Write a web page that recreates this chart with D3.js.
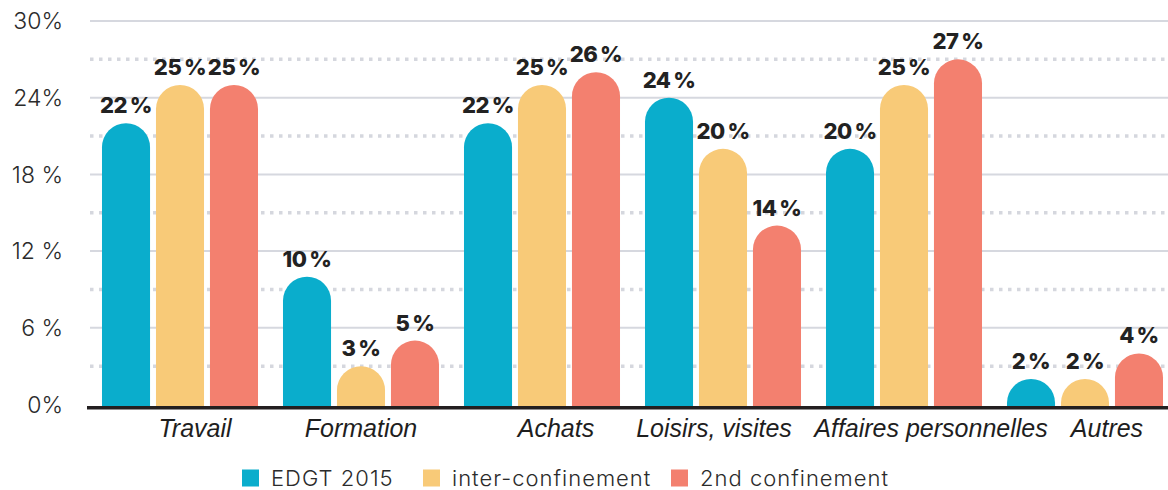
<!DOCTYPE html>
<html>
<head>
<meta charset="utf-8">
<script src="https://cdn.jsdelivr.net/npm/d3@7"></script>
<style>
  body { margin: 0; background: #fff; }
  svg { display: block; }
</style>
</head>
<body>
<svg id="chart" width="1168" height="490"></svg>
<script>
// chart data
const categories = ["Travail", "Formation", "Achats", "Loisirs, visites", "Affaires personnelles", "Autres"];
const seriesNames = ["EDGT 2015", "inter-confinement", "2nd confinement"];
const edgt2015 = [22, 10, 22, 24, 20, 2];
const interConf = [25, 3, 25, 20, 25, 2];
const secondConf = [25, 5, 26, 14, 27, 4];
const yTicks = [0, 6, 12, 18, 24, 30];
const yTickLabels = ["0%", "6 %", "12 %", "18 %", "24%", "30%"];
const yMinorTicks = [3, 9, 15, 21, 27];

const colors = ["#0aadcc", "#f8ca78", "#f3806f"];
const series = [edgt2015, interConf, secondConf];

const svg = d3.select("#chart");

const y = d3.scaleLinear().domain([0, 30]).range([404.5, 21]);

const x0 = d3.scaleBand()
  .domain(categories)
  .range([89.5, 1175.5])
  .paddingInner(0.138)
  .paddingOuter(0.069);

const x1 = d3.scaleBand()
  .domain(seriesNames)
  .range([0, x0.bandwidth()])
  .paddingInner(0.11);

// gridlines
svg.append("g")
  .selectAll("line")
  .data(yTicks.filter(d => d > 0))
  .enter()
  .append("line")
  .attr("x1", 90).attr("x2", 1168)
  .attr("y1", d => y(d)).attr("y2", d => y(d))
  .attr("stroke", "#d6d8df")
  .attr("stroke-width", 2);

svg.append("g")
  .selectAll("line")
  .data(yMinorTicks)
  .enter()
  .append("line")
  .attr("x1", 90).attr("x2", 1168)
  .attr("y1", d => y(d)).attr("y2", d => y(d))
  .attr("stroke", "#d5d7de")
  .attr("stroke-width", 3.5)
  .attr("stroke-dasharray", "3.5,5.5");

// y labels
svg.append("g")
  .selectAll("text")
  .data(yTicks)
  .enter()
  .append("text")
  .attr("x", 63)
  .attr("y", d => y(d))
  .attr("dy", "0.36em")
  .attr("text-anchor", "end")
  .style("font-family", "Inter, 'Open Sans', sans-serif")
  .style("font-weight", 300)
  .style("font-size", "23px")
  .style("fill", "#2b2b2b")
  .text((d, i) => yTickLabels[i]);

// bars with round tops
function barPath(xl, w, top, bottom) {
  const r = w / 2;
  return "M" + xl + "," + bottom +
    "V" + (top + r) +
    "A" + r + "," + r + " 0 0 1 " + (xl + w) + "," + (top + r) +
    "V" + bottom + "Z";
}

const groups = svg.append("g")
  .selectAll("g")
  .data(categories)
  .enter()
  .append("g")
  .attr("transform", d => "translate(" + x0(d) + ",0)");

groups.each(function(cat, ci) {
  const g = d3.select(this);
  seriesNames.forEach(function(s, si) {
    const v = series[si][ci];
    g.append("path")
      .attr("d", barPath(x1(s), x1.bandwidth(), y(v), y(0) + 2))
      .attr("fill", colors[si]);
    g.append("text")
      .attr("x", x1(s) + x1.bandwidth() / 2)
      .attr("y", y(v) - 10)
      .attr("text-anchor", "middle")
      .style("font-family", "Inter, 'Open Sans', sans-serif")
      .style("font-weight", 800)
      .style("font-size", "22px")
      .style("letter-spacing", "-0.5px")
      .style("fill", "#222")
      .text(v + "\u2009%");
  });
});

// baseline
svg.append("line")
  .attr("x1", 87).attr("x2", 1168)
  .attr("y1", y(0) + 3.2).attr("y2", y(0) + 3.2)
  .attr("stroke", "#231f20")
  .attr("stroke-width", 3.6);

// category labels (slight nudges like the original layout)
const labelNudge = [15, 0, 14, -9, 27, 22];
svg.append("g")
  .selectAll("text")
  .data(categories)
  .enter()
  .append("text")
  .attr("x", (d, i) => x0(d) + x0.bandwidth() / 2 + labelNudge[i])
  .attr("y", 437)
  .attr("text-anchor", "middle")
  .style("font-family", "'Liberation Sans', Arial, sans-serif")
  .style("font-style", "italic")
  .style("font-size", "25px")
  .style("fill", "#1e1e1e")
  .text(d => d);

// legend
const legendX = [242, 423, 671];
const legend = svg.append("g");
seriesNames.forEach(function(s, i) {
  legend.append("rect")
    .attr("x", legendX[i]).attr("y", 469.5)
    .attr("width", 17).attr("height", 17)
    .attr("fill", colors[i]);
  legend.append("text")
    .attr("x", legendX[i] + 29)
    .attr("y", 478)
    .attr("dy", "0.36em")
    .style("font-family", "Inter, 'Open Sans', sans-serif")
    .style("font-weight", 300)
    .style("font-size", "22px")
    .style("letter-spacing", "1px")
    .style("fill", "#2b2b2b")
    .text(s);
});
</script>
</body>
</html>
